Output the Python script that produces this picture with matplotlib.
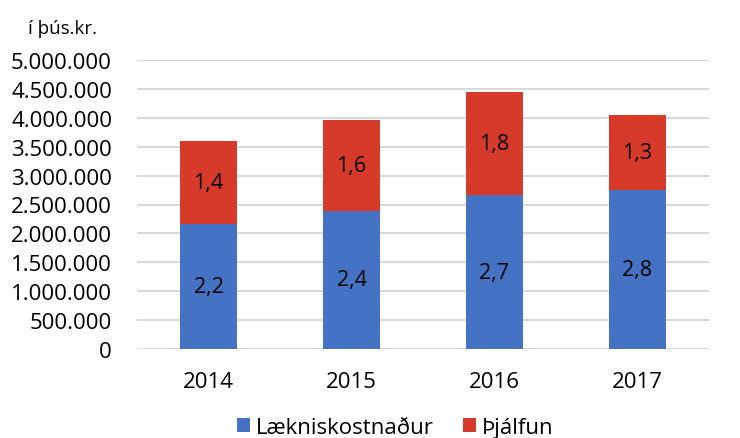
import matplotlib
matplotlib.use("Agg")
import matplotlib.pyplot as plt
from matplotlib.ticker import FuncFormatter, MultipleLocator
import numpy as np

years = ["2014", "2015", "2016", "2017"]
laeknis = [2160000, 2390000, 2660000, 2750000]
thjalfun = [1440000, 1570000, 1790000, 1300000]
series_names = ["Lækniskostnaður", "Þjálfun"]
colors = ["#4472C4", "#D83A2A"]

plt.rcParams['font.family'] = ['Open Sans', 'DejaVu Sans']

fig = plt.figure(figsize=(7.40, 4.39), dpi=100)
ax = fig.add_axes([137/740, 1-350/439, 572/740, 289/439])

x = np.arange(len(years))
w = 0.4
ax.bar(x, laeknis, w, color=colors[0], label=series_names[0], zorder=3)
ax.bar(x, thjalfun, w, bottom=laeknis, color=colors[1], label=series_names[1], zorder=3)

def lab(v):
    return f"{v/1e6:.1f}".replace(".", ",")

for xi, v in zip(x, laeknis):
    ax.text(xi, v/2, lab(v), ha="center", va="center", fontsize=15.5, color="black", zorder=4)
for xi, b, v in zip(x, laeknis, thjalfun):
    ax.text(xi, b + v/2, lab(v), ha="center", va="center", fontsize=15.5, color="black", zorder=4)

ax.set_xlim(-0.5, len(years)-0.5)
ax.set_ylim(0, 5000000)
ax.yaxis.set_major_locator(MultipleLocator(500000))
ax.yaxis.set_major_formatter(FuncFormatter(lambda v, p: f"{int(v):,}".replace(",", ".")))
ax.grid(axis="y", color="#d9d9d9", linewidth=1.5, zorder=0)
ax.set_axisbelow(True)
for s in ax.spines.values():
    s.set_visible(False)
ax.tick_params(axis="both", length=0, labelsize=16)
ax.tick_params(axis="y", pad=18)
ax.tick_params(axis="x", pad=16)
ax.set_xticks(x)
ax.set_xticklabels(years)

fig.text(62/740, 1-29/439, "í þús.kr.", ha="center", va="center", fontsize=13.5)

ax.legend(loc="center", bbox_to_anchor=(0.451, -0.27), ncol=2, frameon=False,
          fontsize=16, handlelength=0.6, handleheight=0.6, handletextpad=0.25,
          columnspacing=1.3, borderaxespad=0, borderpad=0)

fig.savefig("out.png", dpi=100)
